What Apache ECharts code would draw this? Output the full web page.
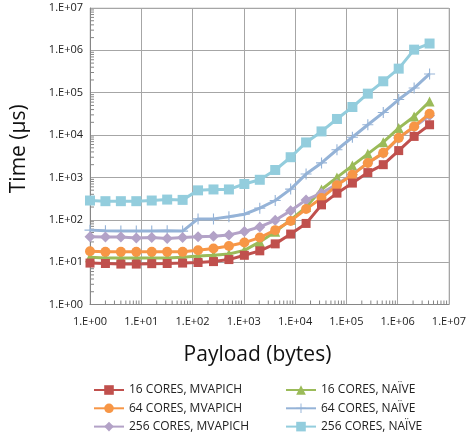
<!DOCTYPE html>
<html><head><meta charset="utf-8">
<script src="https://cdn.jsdelivr.net/npm/echarts@6/dist/echarts.min.js"></script>
<style>html,body{margin:0;padding:0;background:#fff}#c{width:469px;height:435px}</style>
</head><body><div id="c"></div>
<script>
const payload = [1,2,4,8,16,32,64,128,256,512,1024,2048,4096,8192,16384,32768,65536,131072,262144,524288,1048576,2097152,4194304];
const mvapich16 = [9.5,9.3,9.0,9.0,9.2,9.3,9.5,9.8,10.3,11.5,14.5,18.5,27,46,82,225,425,735,1300,2000,4300,9300,17500];
const mvapich64 = [18,17.5,17.5,17.5,17.5,17.5,17.5,19,21,24,29,38,57,94,180,325,650,1150,2200,3800,8600,16000,32000];
const mvapich256 = [40,39,39,37,38,36,38,40,41,44,53,68,97,163,295,425,690,1180,2200,3700,8500,15500,29000];
const naive16 = [13,12.5,12.5,12.5,12.5,12.5,13,14,14.5,15.5,19,30,52,100,200,520,1000,1900,3600,6800,14600,27500,62000];
const naive64 = [57,55,54,54,54,55,54,105,105,118,135,188,285,530,1200,2200,4500,8900,17500,34000,69000,129000,277000];
const naive256 = [285,275,275,275,285,300,295,495,520,520,700,880,1500,3000,6700,12200,24000,46000,95000,186000,370000,1040000,1450000];
const seriesNames = ['16 CORES, MVAPICH','64 CORES, MVAPICH','256 CORES, MVAPICH','16 CORES, NAÏVE','64 CORES, NAÏVE','256 CORES, NAÏVE'];
const decades = [1,10,100,1000,10000,100000,1000000];
const minorMultipliers = [2,3,4,5,6,7,8,9];

const FONT = 'Open Sans';
const fmt = v => { const e = Math.round(Math.log10(v)); return '1.E+' + (e < 10 ? '0' : '') + e; };
const plus = 'path://M4.5,0 L5.5,0 L5.5,4.5 L10,4.5 L10,5.5 L5.5,5.5 L5.5,10 L4.5,10 L4.5,5.5 L0,5.5 L0,4.5 L4.5,4.5 Z';
const minorVals = [];
decades.forEach(d => minorMultipliers.forEach(m => minorVals.push(m * d)));

const defs = [
  {data: mvapich16, color:'#C0504D', symbol:'rect', size:9},
  {data: mvapich64, color:'#F79646', symbol:'circle', size:10},
  {data: mvapich256, color:'#B3A2C7', symbol:'diamond', size:11},
  {data: naive16, color:'#9BBB59', symbol:'triangle', size:10},
  {data: naive64, color:'#95B3D7', symbol:plus, size:11},
  {data: naive256, color:'#93CDDD', symbol:'rect', size:10}
];

const series = defs.map((d, i) => ({
  name: seriesNames[i], type: 'line',
  data: payload.map((x, j) => [x, d.data[j]]),
  symbol: d.symbol, symbolSize: d.size,
  lineStyle: {color: d.color, width: 3},
  itemStyle: {color: d.color, borderWidth: 0},
  z: 2 + (5 - i)
}));

// log-spaced minor ticks along both axes, placed through the axis scales
series.push({
  name: '_xminor', type: 'custom', silent: true, clip: false, z: 1,
  data: minorVals.map(v => [v, 1]),
  renderItem: (params, api) => {
    const p = api.coord([api.value(0), api.value(1)]);
    return {type: 'line', shape: {x1: p[0], y1: p[1], x2: p[0], y2: p[1] - 4}, style: {stroke: '#868686', lineWidth: 1}};
  }
});
series.push({
  name: '_yminor', type: 'custom', silent: true, clip: false, z: 1,
  data: minorVals.map(v => [1, v]),
  renderItem: (params, api) => {
    const p = api.coord([api.value(0), api.value(1)]);
    return {type: 'line', shape: {x1: p[0], y1: p[1], x2: p[0] + 4, y2: p[1]}, style: {stroke: '#868686', lineWidth: 1}};
  }
});

const axisCommon = {
  type: 'log', logBase: 10, min: 1, max: 1e7,
  axisLine: {show: true, lineStyle: {color: '#868686', width: 1}},
  axisTick: {show: false},
  minorTick: {show: false},
  splitLine: {show: true, lineStyle: {color: '#A6A6A6', width: 1}},
  axisLabel: {formatter: fmt, color: '#222', fontFamily: FONT, fontSize: 11}
};

const legendCommon = {
  orient: 'vertical', top: 384, padding: 0, itemGap: 6.3, itemWidth: 30, itemHeight: 12, height: 60,
  textStyle: {fontFamily: FONT, fontSize: 12, color: '#222'}
};

const chart = echarts.init(document.getElementById('c'), null, {renderer: 'canvas'});
chart.setOption({
  animation: false,
  backgroundColor: '#fff',
  grid: {left: 90, right: 18, top: 8, bottom: 130.5, show: true, borderColor: '#D0D0D0', borderWidth: 1},
  xAxis: Object.assign({}, axisCommon, {
    name: 'Payload (bytes)', nameLocation: 'middle', nameGap: 40,
    nameTextStyle: {fontFamily: FONT, fontSize: 21, color: '#111', padding: [0, 24, 0, 0]},
    axisLabel: Object.assign({}, axisCommon.axisLabel, {margin: 12})
  }),
  yAxis: Object.assign({}, axisCommon, {
    name: 'Time (µs)', nameLocation: 'middle', nameGap: 60, nameRotate: 90,
    nameTextStyle: {fontFamily: FONT, fontSize: 21, color: '#111', padding: [0, 0, 0, 15]},
    axisLabel: Object.assign({}, axisCommon.axisLabel, {margin: 7})
  }),
  legend: [
    Object.assign({}, legendCommon, {data: seriesNames.slice(0,3), left: 93}),
    Object.assign({}, legendCommon, {data: seriesNames.slice(3), left: 285})
  ],
  series: series
});
</script></body></html>
